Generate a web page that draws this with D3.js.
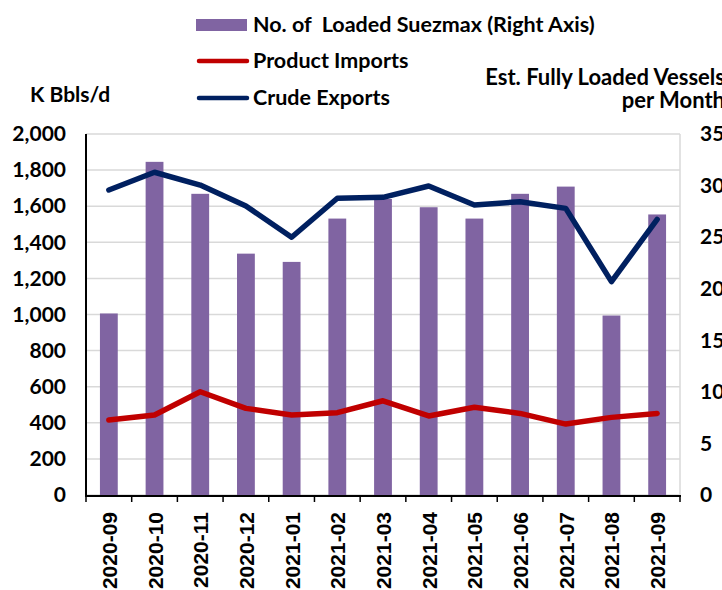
<!DOCTYPE html>
<html>
<head>
<meta charset="utf-8">
<script src="https://cdn.jsdelivr.net/npm/d3@7"></script>
<style>
  body { margin: 0; background: #fff; }
  svg { display: block; font-family: Lato, "Open Sans", sans-serif; }
</style>
</head>
<body>
<svg id="chart" width="722" height="590"></svg>
<script>
//
// Data
//

// months on the x axis
var months = ["2020-09", "2020-10", "2020-11", "2020-12", "2021-01", "2021-02", "2021-03",
  "2021-04", "2021-05", "2021-06", "2021-07", "2021-08", "2021-09"];
// No. of loaded suezmax, right axis
var suezmax = [17.6, 32.3, 29.2, 23.4, 22.6, 26.8, 28.7, 27.9, 26.8, 29.2, 29.9, 17.4, 27.2];
// K bbls/d, left axis
var crudeExports = [1690, 1788, 1717, 1601, 1428, 1644, 1649, 1712, 1607, 1625, 1588, 1182, 1527];
var productImports = [415, 443, 572, 480, 443, 456, 522, 438, 486, 452, 393, 430, 452];
var leftTicks = [0, 200, 400, 600, 800, 1000, 1200, 1400, 1600, 1800, 2000];
var rightTicks = [0, 5, 10, 15, 20, 25, 30, 35];

//
// Configuration
//

var colorBar = "#8064a2";
var colorCrude = "#002060";
var colorProduct = "#c00000";
var colorGrid = "#d9d9d9";
var plot = { left: 86, right: 680, top: 134, bottom: 495 };
var tickFont = "21px";

var svg = d3.select("#chart");

var x = d3.scaleBand().domain(months).range([plot.left, plot.right]).paddingInner(0).paddingOuter(0);
var yLeft = d3.scaleLinear().domain([0, 2000]).range([plot.bottom, plot.top]);
var yRight = d3.scaleLinear().domain([0, 35]).range([plot.bottom, plot.top]);
var barW = x.bandwidth() * 0.39;

//
// Gridlines
//

svg.append("g")
  .selectAll("line")
  .data(leftTicks)
  .join("line")
  .attr("x1", plot.left)
  .attr("x2", plot.right)
  .attr("y1", function(d) { return yLeft(d); })
  .attr("y2", function(d) { return yLeft(d); })
  .attr("stroke", colorGrid)
  .attr("stroke-width", 1.5);

// right edge of the plot box
svg.append("line")
  .attr("x1", plot.right).attr("x2", plot.right)
  .attr("y1", plot.top).attr("y2", plot.bottom)
  .attr("stroke", colorGrid)
  .attr("stroke-width", 1.5);

//
// Bars
//

svg.append("g")
  .selectAll("rect")
  .data(suezmax)
  .join("rect")
  .attr("x", function(d, i) { return x(months[i]) + x.bandwidth() / 2 - barW / 2; })
  .attr("y", function(d) { return yRight(d); })
  .attr("width", barW)
  .attr("height", function(d) { return plot.bottom - yRight(d); })
  .attr("fill", colorBar);

//
// Lines
//

var line = d3.line()
  .x(function(d, i) { return x(months[i]) + x.bandwidth() / 2; })
  .y(function(d) { return yLeft(d); });

function drawLine(values, color) {
  svg.append("path")
    .datum(values)
    .attr("d", line)
    .attr("fill", "none")
    .attr("stroke", color)
    .attr("stroke-width", 5.5)
    .attr("stroke-linejoin", "round")
    .attr("stroke-linecap", "round");
}
drawLine(productImports, colorProduct);
drawLine(crudeExports, colorCrude);

//
// Axes
//

var leftAxis = svg.append("g")
  .attr("transform", "translate(" + plot.left + ",0)")
  .call(d3.axisLeft(yLeft).tickValues(leftTicks).tickFormat(d3.format(",")).tickSize(0).tickPadding(20));
leftAxis.select(".domain").attr("stroke", "#000").attr("stroke-width", 2).attr("d", "M0," + (plot.top) + "V" + (plot.bottom + 2));
leftAxis.selectAll("text")
  .attr("font-family", "Lato")
  .attr("font-weight", "bold")
  .attr("font-size", tickFont)
  .attr("fill", "#000");

var rightAxis = svg.append("g")
  .attr("transform", "translate(" + plot.right + ",0)")
  .call(d3.axisRight(yRight).tickValues(rightTicks).tickSize(0).tickPadding(20));
rightAxis.select(".domain").remove();
rightAxis.selectAll("text")
  .attr("font-family", "Lato")
  .attr("font-weight", "bold")
  .attr("font-size", tickFont)
  .attr("fill", "#000");

// bottom axis: ticks sit on the band edges, labels turned up
var bottom = svg.append("g").attr("transform", "translate(0," + (plot.bottom + 1) + ")");
bottom.append("line")
  .attr("x1", plot.left - 1).attr("x2", plot.right + 1)
  .attr("stroke", "#000").attr("stroke-width", 2);
bottom.selectAll(".tick")
  .data(months.concat(["end"]))
  .join("line")
  .attr("class", "tick")
  .attr("x1", function(d, i) { return plot.left + i * x.step(); })
  .attr("x2", function(d, i) { return plot.left + i * x.step(); })
  .attr("y1", 0)
  .attr("y2", 6)
  .attr("stroke", "#000")
  .attr("stroke-width", 1.5);
bottom.selectAll(".lab")
  .data(months)
  .join("text")
  .attr("class", "lab")
  .attr("transform", function(d) {
    return "translate(" + (x(d) + x.bandwidth() / 2 + 8) + ",16) rotate(-90)";
  })
  .attr("text-anchor", "end")
  .attr("font-family", "'Liberation Sans', Arial, sans-serif")
  .attr("font-weight", "bold")
  .attr("font-size", "21px")
  .text(function(d) { return d; });

//
// Titles
//

svg.append("text")
  .attr("x", 30).attr("y", 102)
  .attr("font-weight", "bold").attr("font-size", "21px")
  .text("K Bbls/d");

svg.append("text")
  .attr("x", 725).attr("y", 85)
  .attr("text-anchor", "end")
  .attr("font-weight", "bold").attr("font-size", "22px")
  .text("Est. Fully Loaded Vessels");
svg.append("text")
  .attr("x", 725).attr("y", 108)
  .attr("text-anchor", "end")
  .attr("font-weight", "bold").attr("font-size", "22px")
  .text("per Month");

//
// Legend
//

var legend = svg.append("g");
legend.append("rect")
  .attr("x", 196).attr("y", 19).attr("width", 51).attr("height", 12)
  .attr("fill", colorBar);
legend.append("line")
  .attr("x1", 199).attr("x2", 247).attr("y1", 61).attr("y2", 61)
  .attr("stroke", colorProduct).attr("stroke-width", 4.5).attr("stroke-linecap", "round");
legend.append("line")
  .attr("x1", 199).attr("x2", 247).attr("y1", 98).attr("y2", 98)
  .attr("stroke", colorCrude).attr("stroke-width", 4.5).attr("stroke-linecap", "round");

var legendLabels = ["No. of  Loaded Suezmax (Right Axis)", "Product Imports", "Crude Exports"];
var legendY = [32, 68, 105];
legend.selectAll("text")
  .data(legendLabels)
  .join("text")
  .attr("x", 253)
  .attr("y", function(d, i) { return legendY[i]; })
  .attr("font-weight", "bold")
  .attr("font-size", "21.5px")
  .style("white-space", "pre")
  .text(function(d) { return d; });
</script>
</body>
</html>
